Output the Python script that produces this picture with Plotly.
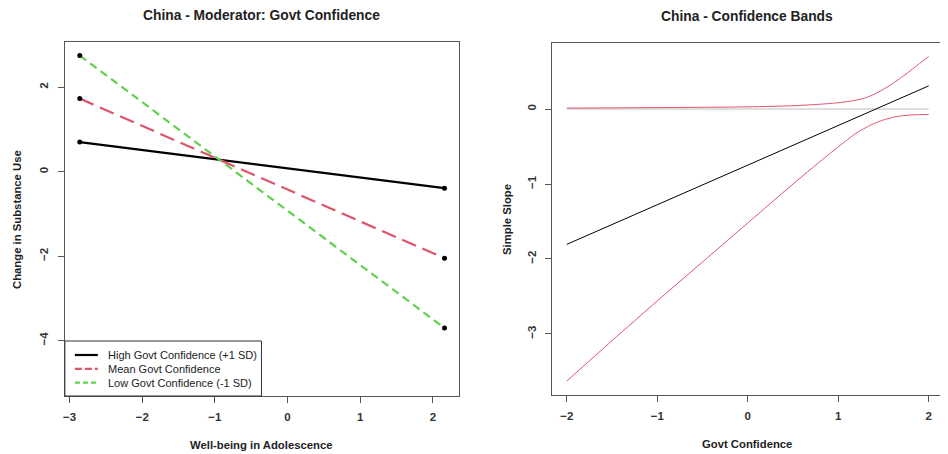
import plotly.graph_objects as go

# Panel kiri: garis simple slope untuk tiga level moderator
wellbeing = [-2.86, 2.16]
high_conf = [0.70, -0.39]
mean_conf = [1.73, -2.05]
low_conf = [2.75, -3.70]
legend_labels = ["High Govt Confidence (+1 SD)", "Mean Govt Confidence", "Low Govt Confidence (-1 SD)"]

# Panel kanan: confidence bands
govt_slope_x = [-2.0, 0.0, 2.0]
slope_y = [-1.805, -0.75, 0.31]
upper_x = [-2.0, -1.0, 0.0, 0.5, 0.8, 1.0, 1.1, 1.2, 1.3, 1.4, 1.5, 1.6, 1.7, 1.8, 1.9, 2.0]
upper_y = [0.013, 0.02, 0.03, 0.045, 0.065, 0.085, 0.10, 0.12, 0.15, 0.20, 0.265, 0.34, 0.425, 0.515, 0.61, 0.70]
lower_x = [-2.0, -1.5, -1.0, -0.5, 0.0, 0.5, 0.9, 1.0, 1.1, 1.2, 1.3, 1.4, 1.5, 1.6, 1.7, 1.8, 1.9, 2.0]
lower_y = [-3.63, -3.09, -2.56, -2.04, -1.52, -1.00, -0.60, -0.505, -0.41, -0.32, -0.25, -0.19,
           -0.145, -0.112, -0.09, -0.08, -0.074, -0.072]
zero_x = [-2.0, 2.0]
zero_y = [0.0, 0.0]

# halaman punya margin body 8px, jadi ukuran figure dikurangi
OFF = 8
W, H = 948 - OFF, 454 - OFF
FONT = "Liberation Sans, Arial, sans-serif"
RED = "#DF536B"
GREEN = "#61D04F"
TXT = "#222222"

def px(x):
    return (x - OFF) / W

def py(y):
    return 1 - (y - OFF) / H

fig = go.Figure()

styles = [dict(color="black", width=2.2),
          dict(color=RED, width=2.2, dash="15px,7px"),
          dict(color=GREEN, width=2.2, dash="8px,5px")]

for ys, st, lab in zip((high_conf, mean_conf, low_conf), styles, legend_labels):
    fig.add_trace(go.Scatter(x=wellbeing, y=ys, mode="lines", line=st, name=lab,
                             showlegend=False, xaxis="x", yaxis="y"))
# titik di ujung garis
for ys in (high_conf, mean_conf, low_conf):
    fig.add_trace(go.Scatter(x=wellbeing, y=ys, mode="markers",
                             marker=dict(color="black", size=5),
                             showlegend=False, xaxis="x", yaxis="y"))

fig.add_trace(go.Scatter(x=zero_x, y=zero_y, mode="lines",
                         line=dict(color="#D3D3D3", width=1.5),
                         showlegend=False, xaxis="x2", yaxis="y2"))
fig.add_trace(go.Scatter(x=govt_slope_x, y=slope_y, mode="lines",
                         line=dict(color="black", width=1),
                         showlegend=False, xaxis="x2", yaxis="y2"))
fig.add_trace(go.Scatter(x=upper_x, y=upper_y, mode="lines", line_shape="spline",
                         line=dict(color=RED, width=1, smoothing=0.8),
                         showlegend=False, xaxis="x2", yaxis="y2"))
fig.add_trace(go.Scatter(x=lower_x, y=lower_y, mode="lines", line_shape="spline",
                         line=dict(color=RED, width=1, smoothing=0.8),
                         showlegend=False, xaxis="x2", yaxis="y2"))

axis_common = dict(
    showgrid=False, zeroline=False, showline=True, mirror=True,
    linecolor="#555555", linewidth=1.2, ticks="outside", ticklen=6,
    tickcolor="#555555",
    tickfont=dict(family=FONT, size=11.5, color="#333333", weight="bold"),
)

fig.update_layout(
    width=W, height=H,
    margin=dict(l=0, r=0, t=0, b=0),
    paper_bgcolor="white", plot_bgcolor="white",
    font=dict(family=FONT),
    showlegend=False,
    xaxis=dict(domain=[px(63), px(458)], range=[-3.065, 2.36],
               tickvals=[-3, -2, -1, 0, 1, 2], anchor="y", ticklabelstandoff=4, **axis_common),
    yaxis=dict(domain=[py(396), py(42)], range=[-5.31, 3.07],
               tickvals=[-4, -2, 0, 2], tickangle=-90, anchor="x", ticklabelstandoff=5, **axis_common),
    xaxis2=dict(domain=[px(551), px(943)], range=[-2.165, 2.158],
                tickvals=[-2, -1, 0, 1, 2], anchor="y2", ticklabelstandoff=4, **axis_common),
    yaxis2=dict(domain=[py(395), py(43)], range=[-3.815, 0.882],
                tickvals=[-3, -2, -1, 0], tickangle=-90, anchor="x2", ticklabelstandoff=4, **axis_common),
)

# legenda manual ala R (bottomleft)
fig.add_shape(type="rect", xref="paper", yref="paper",
              x0=px(63), x1=px(260), y0=py(396), y1=py(341),
              line=dict(color="#333333", width=1), fillcolor="white", layer="above")
for i, (st, lab) in enumerate(zip(styles, legend_labels)):
    yy = 355 + i * 13.8
    fig.add_shape(type="line", xref="paper", yref="paper",
                  x0=px(73), x1=px(96), y0=py(yy), y1=py(yy),
                  line=dict(color=st["color"], width=2.2,
                            dash="7px,3px" if i == 1 else ("5px,3px" if i == 2 else None)),
                  layer="above")
    fig.add_annotation(x=px(104), y=py(yy), xref="paper", yref="paper",
                       text=lab, showarrow=False, xanchor="left", yanchor="middle",
                       font=dict(family=FONT, size=11, color=TXT))

annots = [
    dict(x=px(260), y=py(15), text="<b>China - Moderator: Govt Confidence</b>", size=13.8, angle=0),
    dict(x=px(747), y=py(16), text="<b>China - Confidence Bands</b>", size=13.8, angle=0),
    dict(x=px(260), y=py(445), text="<b>Well-being in Adolescence</b>", size=11.3, angle=0),
    dict(x=px(747), y=py(444), text="<b>Govt Confidence</b>", size=11.3, angle=0),
    dict(x=px(15), y=py(219), text="<b>Change in Substance Use</b>", size=11.3, angle=-90),
    dict(x=px(506), y=py(219), text="<b>Simple Slope</b>", size=11.3, angle=-90),
]
for a in annots:
    fig.add_annotation(x=a["x"], y=a["y"], xref="paper", yref="paper",
                       text=a["text"], showarrow=False, textangle=a["angle"],
                       xanchor="center", yanchor="middle",
                       font=dict(family=FONT, size=a["size"], color=TXT))

fig.write_html("out.html")
